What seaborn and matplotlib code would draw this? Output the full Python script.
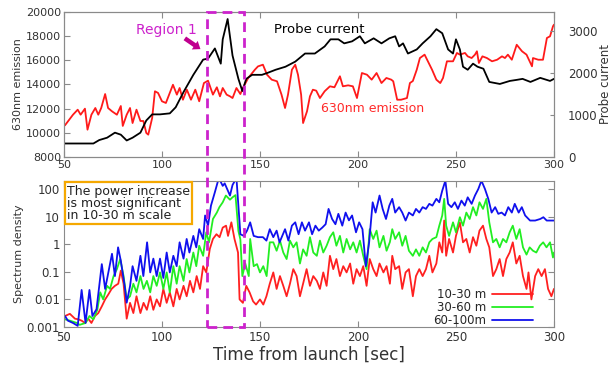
import numpy as np
import pandas as pd
import matplotlib
matplotlib.use('Agg')
import matplotlib.pyplot as plt
import seaborn as sns
from matplotlib.patches import Rectangle
import matplotlib.transforms as mtransforms

# ---------------- data ----------------
# 630nm emission (left axis, top panel): (time [s], value)
emission_630 = [
    (50.5, 10620), (54.6, 11500), (57, 11915), (58.5, 11500), (60.7, 12000), (62, 10260), (64, 11500), (66, 12055), (67.5, 11500), (69, 12055),
    (71, 13210), (72.5, 12055), (74.5, 11780), (77, 11500), (79, 12220), (80, 10570), (82, 11500), (83.7, 12055), (85, 10810), (87, 11915),
    (89, 10980), (90.5, 10980), (92, 9990), (93, 9850), (95, 11230), (96.4, 13440), (98, 13300), (100, 12610), (102, 12470), (104, 13300),
    (105.6, 13980), (107.6, 13160), (109, 13710), (110.7, 12740), (112.7, 13570), (114.8, 12740), (117, 13570), (119, 12610), (121.4, 14120), (123.5, 14315),
    (126, 13160), (128, 13770), (129.6, 13020), (131, 13710), (133, 13160), (134.7, 13020), (136, 12880), (138, 13710), (140, 13210), (141.3, 13710),
    (144, 14540), (147.4, 15225), (149, 15500), (151.5, 15640), (153.6, 14810), (156, 14400), (158.7, 14265), (161, 13160), (162.8, 12055), (164.3, 13160),
    (166.3, 15225), (168, 15640), (169.4, 14810), (171, 13160), (172, 10810), (174, 11780), (175.5, 13020), (177, 13570), (178.7, 13490), (180.6, 12880),
    (183, 13440), (185.7, 13850), (188, 13770), (190.8, 14680), (192.3, 13850), (195, 13930), (197.4, 13850), (199.5, 12880), (202, 14950), (204.6, 14810),
    (207, 14400), (209.5, 14950), (212, 14120), (214.5, 14540), (217, 14400), (218, 14265), (220, 12740), (222, 12740), (225, 12880), (226.5, 14120),
    (228, 14290), (230, 15225), (231.6, 16190), (234, 16470), (235.7, 15920), (237.8, 15225), (240, 14400), (242, 14120), (243.4, 14540), (245.4, 15920),
    (248.5, 15920), (250.5, 16610), (252, 16470), (254.6, 16610), (256, 16330), (258, 16190), (259.7, 16470), (260.7, 16750), (261.7, 15780), (263.5, 16330),
    (265.8, 16190), (268.4, 15920), (271, 16050), (273.5, 16330), (275, 16190), (276.5, 16470), (278.5, 16050), (281, 17290), (283.7, 16750), (286, 16470),
    (288.8, 15505), (289.3, 16190), (292, 16050), (294.4, 16050), (296.4, 17850), (298, 17990), (299.5, 18815), (300, 18950),
]

# Probe current (right axis, top panel)
probe_current = [
    (50, 321), (55, 321), (60, 321), (65, 321), (68, 403), (72, 459), (76, 579), (79, 531), (82, 393), (85, 459),
    (89, 579), (92, 869), (95, 1014), (99, 1014), (104, 1038), (107, 1183), (111, 1545), (116, 1955), (121, 2317), (123.5, 2342),
    (127, 2583), (130, 2221), (131, 2800), (133.5, 3283), (136, 2414), (139, 1859), (141, 1569), (143, 1859), (146, 1955), (151, 1955),
    (154, 2004), (158, 2076), (163, 2148), (168, 2269), (173, 2462), (178, 2462), (183, 2631), (186, 2800), (190, 2800), (193, 2704),
    (197, 2752), (201, 2873), (203.5, 2704), (208, 2824), (212, 2704), (216, 2824), (219, 2873), (221, 2631), (223, 2704), (225.5, 2462),
    (230, 2559), (233, 2704), (237, 2873), (240, 3042), (243, 2945), (246, 2559), (248.5, 2462), (250, 2800), (252, 2559), (253.6, 2148),
    (256, 2076), (258.7, 2221), (261, 2148), (264, 2100), (267, 1786), (272.4, 1738), (277.5, 1810), (281, 1835), (284, 1859), (288, 1786),
    (293, 1883), (298, 1810), (300, 1859),
]

# Spectrum density (bottom panel)
spec_10_30 = [
    (50.5, 0.0025), (53, 0.003), (55.6, 0.002), (57.3, 0.0019), (59, 0.0017), (60.7, 0.0014), (62.4, 0.002), (64, 0.0014), (65.8, 0.0025), (67.5, 0.0032),
    (69.3, 0.0056), (71, 0.01), (72.6, 0.015), (74.3, 0.024), (76, 0.031), (77.7, 0.037), (79, 0.11), (80.4, 0.037), (82, 0.002), (83.7, 0.0075),
    (85.4, 0.0032), (87, 0.013), (89, 0.0032), (90.6, 0.0075), (92.3, 0.0042), (94, 0.013), (95.6, 0.0042), (97.3, 0.01), (99, 0.0056), (100.7, 0.024),
    (102.4, 0.0075), (104, 0.018), (105.8, 0.0056), (107.5, 0.024), (109, 0.01), (111, 0.031), (112.6, 0.013), (114.3, 0.047), (116, 0.018), (117.7, 0.07),
    (119.4, 0.024), (121, 0.16), (122.6, 0.095), (124.4, 0.67), (126, 1.55), (127.8, 2.3), (129.4, 1.8), (131, 4.0), (132.7, 4.7), (133.7, 2.0),
    (135.4, 6.2), (137, 1.55), (138.8, 0.5), (139.6, 0.01), (141.3, 0.0075), (143, 0.031), (144.7, 0.018), (146.5, 0.0085), (148, 0.0065), (150, 0.01),
    (151.7, 0.0065), (153.3, 0.013), (155, 0.037), (156.8, 0.095), (158.5, 0.024), (160.2, 0.07), (161.9, 0.031), (163.6, 0.013), (165.3, 0.037), (167, 0.125),
    (168.7, 0.07), (170.4, 0.013), (172, 0.037), (173.8, 0.125), (175.5, 0.031), (177.2, 0.07), (179, 0.047), (180.6, 0.024), (182.3, 0.095), (184, 0.031),
    (185.7, 0.38), (187.4, 0.125), (189, 0.29), (190.8, 0.07), (192.5, 0.16), (194.2, 0.095), (196, 0.2), (197.6, 0.037), (199.3, 0.125), (201, 0.07),
    (202.7, 0.16), (204.4, 0.031), (206, 0.29), (207.8, 0.125), (209.5, 0.07), (211, 0.2), (213, 0.095), (214.6, 0.16), (216.3, 0.037), (217.5, 0.38),
    (219, 0.125), (221, 0.16), (222.6, 0.024), (224.3, 0.095), (226, 0.125), (228, 0.013), (229.6, 0.07), (231.3, 0.125), (233, 0.07), (234.7, 0.125),
    (236.4, 0.38), (238, 0.095), (240, 0.2), (241.5, 1.17), (243, 0.5), (244, 7.2), (245, 0.38), (246.5, 1.55), (248.5, 0.5), (250, 2.0),
    (252, 6.2), (253.6, 1.17), (255.3, 1.55), (257, 0.5), (258.7, 1.8), (260.4, 0.88), (262, 3.1), (263.8, 4.7), (265.5, 1.55), (267, 0.77),
    (268.9, 0.07), (270.6, 0.125), (272.3, 0.29), (274, 0.07), (275.7, 0.29), (277.4, 0.5), (279, 1.17), (280.8, 0.2), (282.5, 0.38), (284.2, 0.07),
    (286, 0.024), (287, 0.095), (288.5, 0.01), (290.4, 0.07), (292, 0.125), (293.7, 0.07), (295.4, 0.125), (297, 0.024), (298.7, 0.013), (300, 0.024),
]

spec_30_60 = [
    (50.5, 0.0019), (53, 0.0017), (56.6, 0.0014), (58, 0.0012), (61, 0.0014), (63, 0.0025), (65, 0.0019), (67, 0.0042), (68.5, 0.018), (70, 0.01),
    (72, 0.031), (73.5, 0.024), (75.3, 0.07), (77, 0.125), (78.7, 0.29), (80.4, 0.07), (82, 0.01), (83.7, 0.013), (85.4, 0.037), (87, 0.018),
    (89, 0.07), (90.6, 0.024), (92.3, 0.047), (94, 0.018), (95.6, 0.07), (97.3, 0.031), (99, 0.095), (100.7, 0.024), (102.4, 0.095), (104, 0.018),
    (105.8, 0.16), (107.5, 0.037), (109, 0.16), (111, 0.047), (112.6, 0.29), (114, 0.095), (116, 0.5), (117.5, 0.16), (119, 0.88), (121, 0.38),
    (122.6, 2.7), (124, 1.17), (126, 8.2), (128, 14), (129.3, 22), (131, 33), (132.6, 58), (134.7, 41), (136, 50), (137.5, 60),
    (139, 3.0), (140, 1.5), (141, 0.07), (142.5, 0.2), (144.3, 0.07), (145, 1.55), (146.8, 0.16), (148.5, 0.19), (150, 0.095), (151.7, 0.16),
    (153.4, 0.07), (155, 1.17), (156.8, 1.17), (158.5, 0.58), (160.2, 1.35), (161.9, 0.5), (163.6, 0.29), (165.3, 1.35), (167, 0.77), (168.7, 1.17),
    (170.4, 0.2), (172, 0.65), (173.8, 0.38), (175.5, 1.8), (177.2, 0.5), (179, 0.38), (180.6, 1.35), (182.3, 0.5), (184, 0.88), (185.7, 1.8),
    (187.4, 2.7), (189, 0.88), (190.8, 2.0), (192.5, 0.5), (194.2, 1.55), (196, 0.65), (197.6, 1.17), (199.3, 0.5), (201, 1.35), (202.7, 0.38),
    (204.4, 0.125), (206, 3.5), (207.8, 1.55), (209.5, 3.1), (211, 0.77), (213, 2.0), (214.6, 0.58), (216.3, 1.2), (217.5, 3.5), (219, 1.55),
    (221, 2.7), (222.6, 0.88), (224.3, 2.0), (226, 0.58), (228, 0.38), (229.6, 0.65), (231.3, 0.38), (233, 0.77), (234.7, 0.5), (236.4, 1.17),
    (238, 1.55), (240, 1.8), (241.5, 4.7), (243, 11), (244, 44), (245, 4.7), (246.5, 2.0), (248.5, 6.2), (250, 2.7), (252, 9.5),
    (253.6, 4.7), (255.3, 14), (257, 8.2), (258.7, 22), (260.4, 11), (262, 33), (263.8, 19), (265.5, 44), (267, 6.2), (268.9, 1.17),
    (270.6, 1.55), (272.3, 0.77), (274, 1.55), (275.7, 1.17), (277.4, 2.7), (279, 4.7), (280.8, 1.55), (282.5, 3.5), (284.2, 0.77), (286, 0.42),
    (287.6, 0.77), (289.3, 0.58), (291, 0.5), (292.8, 0.88), (294.5, 1.17), (296.2, 0.77), (298, 1.17), (299.5, 0.33), (300, 0.5),
]

spec_60_100 = [
    (50.5, 0.0025), (52, 0.0017), (54.6, 0.0014), (57, 0.0011), (59, 0.022), (61, 0.0014), (63, 0.022), (64.5, 0.0025), (66.6, 0.0044), (69.3, 0.19),
    (71, 0.024), (72.5, 0.085), (74.5, 0.45), (76, 0.07), (77.6, 0.77), (79, 0.25), (81, 0.03), (82, 0.0076), (83.7, 0.03), (85, 0.16),
    (87, 0.047), (89, 0.38), (90.5, 0.07), (92.4, 1.17), (94, 0.095), (95.6, 0.3), (97.3, 0.07), (99, 0.3), (100.7, 0.06), (102.4, 0.5),
    (104, 0.095), (105.8, 0.38), (107.5, 0.16), (109, 1.17), (111, 0.3), (112.6, 1.55), (114, 0.5), (116, 2.0), (117.5, 0.77), (119, 3.5),
    (121, 1.55), (122, 11), (123.5, 4.7), (125, 25), (127, 77), (129, 250), (131, 130), (132, 160), (134.7, 58), (136, 140),
    (138, 250), (140, 2.3), (141.8, 2.0), (143.4, 3.1), (145, 6.2), (146.8, 2.0), (149, 1.8), (151.5, 1.8), (153.3, 1.35), (155, 3.5),
    (156.8, 1.8), (158.5, 3.1), (160, 1.17), (162.8, 3.5), (164.5, 1.35), (166.3, 4.7), (168, 6.2), (169.7, 2.3), (171.4, 6.2), (173, 3.1),
    (175, 6.2), (176.6, 2.3), (178.3, 4.7), (180, 3.1), (181.8, 4.0), (183.5, 5.3), (185, 19), (186.8, 8.2), (188.5, 5.3), (190, 12.6),
    (192, 4.7), (193.7, 14), (195.4, 7.3), (197, 11), (199, 2.7), (200.6, 6.2), (202.3, 3.5), (204, 0.16), (205.7, 1.17), (207.5, 33),
    (209, 14), (211, 58), (212.6, 19), (214.3, 8.2), (216, 25), (217.5, 44), (219, 14), (221, 22), (222.6, 14), (224.3, 7.2),
    (226, 14), (228, 11), (229.6, 19), (231.3, 14), (233, 22), (234.7, 19), (236.4, 29), (238, 25), (240, 44), (241.5, 33),
    (243, 87), (244.6, 200), (246, 29), (247.7, 22), (249.4, 33), (251, 19), (252.8, 38), (254.5, 25), (256, 50), (258, 29),
    (259.7, 58), (261.4, 100), (263, 200), (264.8, 100), (266.5, 44), (268.2, 14), (270, 22), (271.6, 12.6), (273.3, 14), (275, 11),
    (276.7, 22), (278.5, 14), (280, 29), (282, 14), (283.6, 22), (285.3, 11), (287.8, 7.2), (290.4, 7.2), (293, 8.2), (294.6, 9.5),
    (296.3, 7.2), (298.9, 7.2), (300, 7.2),
]

band_labels = ['10-30 m', '30-60 m', '60-100m']
band_colors = ['#ff2020', '#22ee22', '#1010ee']
x_ticks = [50, 100, 150, 200, 250, 300]
left_ticks = [8000, 10000, 12000, 14000, 16000, 18000, 20000]
right_ticks = [0, 1000, 2000, 3000]
spec_ticks = [0.001, 0.01, 0.1, 1, 10, 100]
spec_ticklabels = ['0.001', '0.01', '0.1', '1', '10', '100']
region = (123, 142)

# ---------------- style ----------------
sns.set_style('ticks', {'xtick.direction': 'in', 'ytick.direction': 'in',
                        'axes.edgecolor': '#8a8a8a'})
plt.rcParams['font.family'] = ['DejaVu Sans']
plt.rcParams['xtick.color'] = '#8a8a8a'
plt.rcParams['ytick.color'] = '#8a8a8a'
plt.rcParams['xtick.labelcolor'] = '#333333'
plt.rcParams['ytick.labelcolor'] = '#333333'

fig = plt.figure(figsize=(6.14, 3.65), dpi=100)
ax1 = fig.add_axes([0.1042, 0.5699, 0.7980, 0.3972])
ax2 = fig.add_axes([0.1042, 0.1041, 0.7980, 0.4000])

df_em = pd.DataFrame(emission_630, columns=['t', 'v'])
df_pc = pd.DataFrame(probe_current, columns=['t', 'v'])

sns.lineplot(data=df_em, x='t', y='v', color='#ff1a1a', lw=1.3, ax=ax1,
             estimator=None, sort=False)
ax1.set_xlim(50, 300)
ax1.set_ylim(8000, 20000)
ax1.set_xticks(x_ticks)
ax1.set_yticks(left_ticks)
ax1.set_xlabel('')
ax1.set_ylabel('630nm emission', fontsize=8, color='#333333', labelpad=2)
ax1.tick_params(labelsize=8, top=True, length=4, pad=2)

ax1b = ax1.twinx()
sns.lineplot(data=df_pc, x='t', y='v', color='black', lw=1.3, ax=ax1b,
             estimator=None, sort=False)
ax1b.set_ylim(0, 3450)
ax1b.set_yticks(right_ticks)
ax1b.set_ylabel('Probe current', fontsize=8.5, color='#333333', labelpad=1)
ax1b.tick_params(labelsize=8.5, length=3, pad=10, direction='in')
ax1b.set_xlim(50, 300)
for sp in ax1b.spines.values():
    sp.set_color('#8a8a8a')

ax1.text(102.5, 18550, 'Region 1', color='#cc22cc', fontsize=10, ha='center', va='center')
ax1.annotate('', xy=(120.8, 16800), xytext=(110.5, 17950),
             arrowprops=dict(arrowstyle='simple,head_width=0.75,head_length=0.5,tail_width=0.32',
                             color='#c0008f', lw=0))
ax1.text(157, 18550, 'Probe current', color='black', fontsize=9.5, ha='left', va='center')
ax1.text(181, 12050, '630nm emission', color='#ff2a2a', fontsize=9, ha='left', va='center')

# bottom panel
rows = []
for lab, series in zip(band_labels, [spec_10_30, spec_30_60, spec_60_100]):
    for t, v in series:
        rows.append((t, v, lab))
df_sp = pd.DataFrame(rows, columns=['t', 'v', 'band'])

sns.lineplot(data=df_sp, x='t', y='v', hue='band', hue_order=band_labels,
             palette=band_colors, lw=1.3, ax=ax2, estimator=None, sort=False)
ax2.set_yscale('log')
ax2.set_xlim(50, 300)
ax2.set_ylim(0.001, 195)
ax2.set_xticks(x_ticks)
ax2.set_yticks(spec_ticks)
ax2.set_yticklabels(spec_ticklabels)
ax2.minorticks_off()
ax2.tick_params(labelsize=8.5, top=True, right=True, length=4, pad=3)
ax2.set_ylabel('Spectrum density', fontsize=8, color='#333333', labelpad=2)
ax2.set_xlabel('Time from launch [sec]', fontsize=12, color='#333333', labelpad=1)

handles, labels = ax2.get_legend_handles_labels()
ax2.legend(handles, labels, loc='lower right', bbox_to_anchor=(0.967, -0.03),
           markerfirst=False, frameon=False, fontsize=8.5, handlelength=3.5,
           labelspacing=0.0, borderaxespad=0, handletextpad=0.5)

ax2.text(0.006, 0.975, 'The power increase\nis most significant\nin 10-30 m scale',
         transform=ax2.transAxes, ha='left', va='top', fontsize=9, color='#222222',
         linespacing=0.92,
         bbox=dict(boxstyle='square,pad=0.18', fc='white', ec='#f5a800', lw=1.6))

# region rectangle spanning both panels
trans = mtransforms.blended_transform_factory(ax1.transData, fig.transFigure)
rect = Rectangle((region[0], 0.1041), region[1] - region[0], 0.9671 - 0.1041,
                 transform=trans, fill=False, ec='#cc22cc', lw=2,
                 ls=(0, (3.5, 2.2)), clip_on=False, zorder=10)
fig.add_artist(rect)

fig.savefig('out.png', dpi=100)
